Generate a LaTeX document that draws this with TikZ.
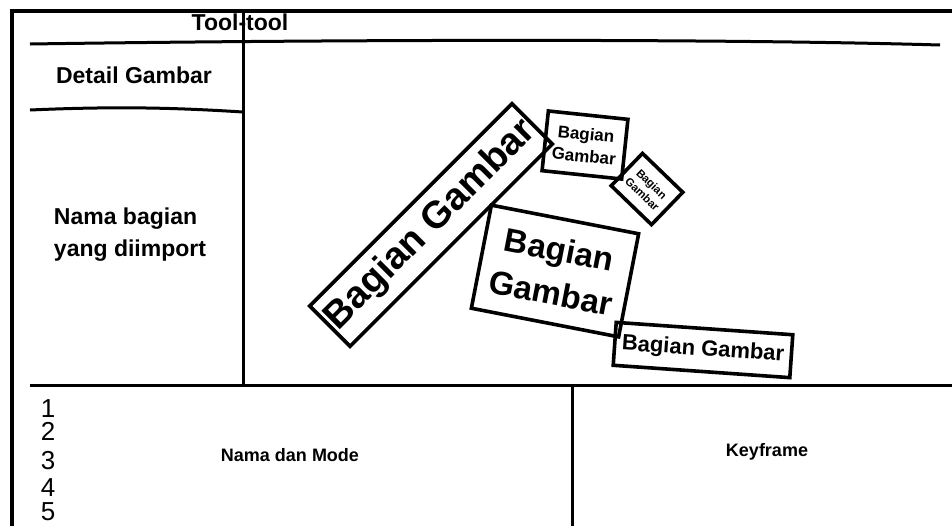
\documentclass[tikz,border=0pt]{standalone}
\usepackage{fontspec}
\setmainfont{Liberation Sans}
\usepackage{tikz}
\usetikzlibrary{positioning}

\begin{document}
\begin{tikzpicture}[
    x=0.5pt, y=-0.5pt,
    frame/.style={line width=2pt},
    divider/.style={line width=1.5pt},
    part/.style={rectangle,draw,line width=1.8pt,inner sep=0pt,align=center,font=\bfseries},
    paneltext/.style={font=\bfseries\fontsize{11.5}{16}\selectfont},
    captext/.style={font=\bfseries\fontsize{9}{11}\selectfont},
    digit/.style={font=\fontsize{13}{13}\selectfont,inner sep=0pt}
]
\useasboundingbox (0,0) rectangle (952,526);

% Window frame and panels
\draw[frame] (12,526) -- (12,11) -- (952,11);
\draw[divider] (30,44) .. controls (300,40) and (700,38) .. (940,45);
\draw[divider] (30,110) .. controls (120,106) and (180,108) .. (243,112);
\draw[divider] (243,11) -- (243,387);
\draw[divider] (30,385) -- (952,385);
\draw[divider] (572,385) -- (572,526);

% Panel titles
\node[paneltext] (tools) at (240,22) {Tool-tool};
\node[paneltext] (detail) at (134,75) {Detail Gambar};
\node[paneltext,align=left] (imported) at (130,235) {Nama bagian\\yang diimport};
\node[captext] (namemode) at (290,455) {Nama dan Mode};
\node[captext] (keyframe) at (767,452) {Keyframe};

% Layer numbers
\foreach \n/\y in {1/409,2/431,3/461,4/488,5/512}
    \node[digit] (num\n) at (48,\y) {\n};

% Imported picture parts
\node[part,rotate=45,minimum width=143pt,minimum height=28.5pt,font=\bfseries\fontsize{19}{20}\selectfont] (bigpart) at (431,225) {Bagian Gambar};
\node[part,rotate=-6,minimum width=40pt,minimum height=30pt,font=\bfseries\fontsize{8.5}{11}\selectfont] (smallpart) at (585,145) {Bagian\\Gambar};
\node[part,rotate=-44,minimum width=28pt,minimum height=22.5pt,font=\bfseries\fontsize{5.6}{6.8}\selectfont] (tinypart) at (647,189) {Bagian\\Gambar};
\node[part,rotate=-11,minimum width=75pt,minimum height=52.5pt,font=\bfseries\fontsize{16.5}{22}\selectfont] (midpart) at (555,271) {Bagian\\Gambar};
\node[part,rotate=-4,minimum width=88.5pt,minimum height=21.5pt,font=\bfseries\fontsize{11}{13}\selectfont] (widepart) at (703,350) {Bagian Gambar};
\end{tikzpicture}
\end{document}
